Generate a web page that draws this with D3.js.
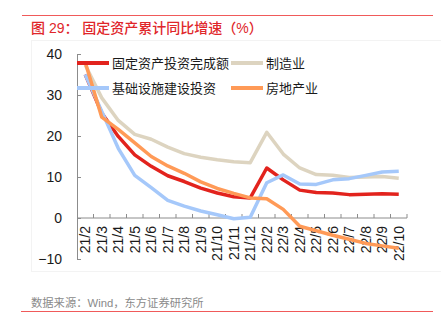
<!DOCTYPE html>
<html>
<head>
<meta charset="utf-8">
<script src="https://cdn.jsdelivr.net/npm/d3@7"></script>
<style>
  body { margin: 0; background: #fff; }
  text { font-family: "Liberation Sans", "Noto Sans CJK SC", sans-serif; }
</style>
</head>
<body>
<script>
// Months on the x axis (no 22/1, Jan-Feb are reported together)
var months = ["21/2", "21/3", "21/4", "21/5", "21/6", "21/7", "21/8", "21/9", "21/10", "21/11", "21/12",
              "22/2", "22/3", "22/4", "22/5", "22/6", "22/7", "22/8", "22/9", "22/10"]

// Cumulative year-on-year growth, %
var fixedAsset = [35.0, 25.6, 19.9, 15.4, 12.6, 10.3, 8.9, 7.3, 6.1, 5.2, 4.9,
                  12.2, 9.3, 6.8, 6.2, 6.1, 5.7, 5.8, 5.9, 5.8]
var manufacturing = [37.3, 29.3, 23.8, 20.4, 19.2, 17.3, 15.7, 14.8, 14.2, 13.7, 13.5,
                     20.9, 15.6, 12.2, 10.6, 10.4, 9.9, 10.0, 10.1, 9.7]
var infrastructure = [35.0, 26.0, 17.0, 10.4, 7.4, 4.3, 2.9, 1.7, 0.8, -0.2, 0.2,
                      8.6, 10.5, 8.3, 8.2, 9.3, 9.6, 10.4, 11.2, 11.4]
var realEstate = [38.0, 24.6, 21.6, 18.3, 15.0, 12.7, 10.9, 8.8, 7.2, 6.0, 4.9,
                  4.7, 2.1, -2.0, -3.1, -4.2, -5.2, -6.2, -6.8, -7.4]

var yTicks = [-10, 0, 10, 20, 30, 40]

var series = [
  {name: "固定资产投资完成额", values: fixedAsset, color: "#E2231D"},
  {name: "制造业", values: manufacturing, color: "#DDD4C0"},
  {name: "基础设施建设投资", values: infrastructure, color: "#A5C8FA"},
  {name: "房地产业", values: realEstate, color: "#FF9A57"}
]

var svgW = 441
var svgH = 323

var svg = d3.select("body")
            .append("svg")
            .attr("width", svgW)
            .attr("height", svgH)

// Faint frame around the chart body
svg.append("rect")
   .attr("x", 31.5)
   .attr("y", 40.5)
   .attr("width", 420)
   .attr("height", 231)
   .style("fill", "none")
   .style("stroke", "#f3f3f3")

// Top rule and title
svg.append("line")
   .attr("x1", 22).attr("x2", 433)
   .attr("y1", 15.5).attr("y2", 15.5)
   .style("stroke", "#F05A5A")
   .style("stroke-width", 1)

svg.append("text")
   .attr("x", 31)
   .attr("y", 33)
   .style("font-size", "14px")
   .style("font-weight", "500")
   .style("fill", "#E0262A")
   .text("图 29：  固定资产累计同比增速（%）")

// Scales
var xScale = d3.scaleBand()
               .domain(months)
               .range([77, 407])

var yScale = d3.scaleLinear()
               .domain([-10, 40])
               .range([259, 54])

var half = xScale.bandwidth() / 2

// Y axis, ticks pointing inward
var yAxis = d3.axisLeft(yScale)
              .tickValues(yTicks)
              .tickSizeInner(-4)
              .tickSizeOuter(0)
              .tickPadding(15)

var gy = svg.append("g")
            .attr("transform", "translate(77,0)")
            .call(yAxis)
gy.select(".domain").attr("stroke", "#8c8c8c")
gy.selectAll(".tick line").attr("stroke", "#8c8c8c")
gy.selectAll(".tick text")
  .style("font-size", "14px")
  .attr("fill", "#1a1a1a")

// X axis along zero, ticks between months
var zeroY = yScale(0)
svg.append("line")
   .attr("x1", 77).attr("x2", 407)
   .attr("y1", zeroY).attr("y2", zeroY)
   .style("stroke", "#8c8c8c")

svg.selectAll("xTicks")
   .data(months.slice(1).concat(["end"]))
   .enter()
   .append("line")
     .attr("x1", function(d) { return d == "end" ? 407 : xScale(d) })
     .attr("x2", function(d) { return d == "end" ? 407 : xScale(d) })
     .attr("y1", zeroY - 4)
     .attr("y2", zeroY)
     .style("stroke", "#8c8c8c")

svg.selectAll("xLabels")
   .data(months)
   .enter()
   .append("text")
     .attr("transform", function(d) {
       return "translate(" + (xScale(d) + half) + ",226) rotate(-90)"
     })
     .attr("dy", "0.36em")
     .style("text-anchor", "end")
     .style("font-size", "14px")
     .style("fill", "#1a1a1a")
     .text(function(d) { return d })

// Lines
var line = d3.line()
             .x(function(d, i) { return xScale(months[i]) + half })
             .y(function(d) { return yScale(d) })

svg.selectAll("seriesLines")
   .data(series)
   .enter()
   .append("path")
     .attr("d", function(d) { return line(d.values) })
     .style("fill", "none")
     .style("stroke", function(d) { return d.color })
     .style("stroke-width", 3.5)
     .style("stroke-linejoin", "round")

// Legend, two columns
var legendPos = [[77, 63], [231, 63], [77, 88], [231, 88]]
var legend = svg.selectAll("legendItems")
                .data(series)
                .enter()
                .append("g")
                  .attr("transform", function(d, i) {
                    return "translate(" + legendPos[i][0] + "," + legendPos[i][1] + ")"
                  })

legend.append("line")
      .attr("x1", 0).attr("x2", 32)
      .attr("y1", 0).attr("y2", 0)
      .style("stroke", function(d) { return d.color })
      .style("stroke-width", 4)

legend.append("text")
      .attr("x", 35)
      .attr("dy", "0.36em")
      .style("font-size", "13px")
      .style("fill", "#1a1a1a")
      .text(function(d) { return d.name })

// Source note and bottom rule
svg.append("text")
   .attr("x", 31)
   .attr("y", 307)
   .style("font-size", "11.3px")
   .style("fill", "#8a8a8a")
   .text("数据来源：Wind，东方证券研究所")

svg.append("line")
   .attr("x1", 21).attr("x2", 433)
   .attr("y1", 311.5).attr("y2", 311.5)
   .style("stroke", "#F05A5A")
   .style("stroke-width", 1)
</script>
</body>
</html>
